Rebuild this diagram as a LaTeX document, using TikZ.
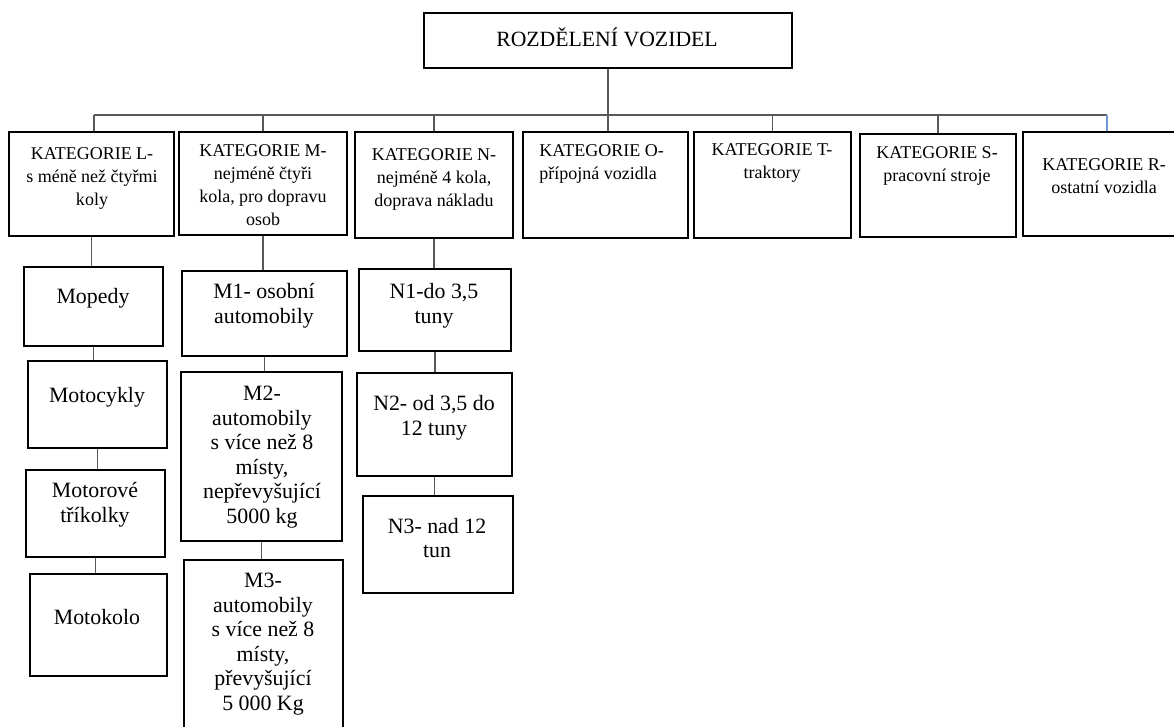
\documentclass[tikz,border=0pt]{standalone}
\usepackage{fontspec}
\setmainfont{Liberation Serif}
\usetikzlibrary{fit}
\tikzset{
  box/.style={draw=black, line width=1.4pt, inner sep=0pt},
  conn/.style={draw=black!65, line width=0.8pt},
  bluecon/.style={draw=cyan!50!blue!60, line width=0.8pt},
  cat/.style={font=\fontsize{13.5}{17.25}\selectfont, align=center, inner sep=0pt},
  sub/.style={font=\fontsize{16.4}{18.4}\selectfont, align=center, inner sep=0pt},
  ttl/.style={font=\fontsize{16.3}{19}\selectfont, inner sep=0pt},
}
\begin{document}
\begin{tikzpicture}[x=0.75pt,y=-0.75pt]
\clip (0,0) rectangle (1174,727);
\fill[white] (0,0) rectangle (1174,727);
% boxes
\node[box, fit={(424,13) (792,68)}] (top) {};
\node[box, fit={(9,132) (174,236)}] (L) {};
\node[box, fit={(179,132) (347,235)}] (M) {};
\node[box, fit={(355,132) (513,238)}] (N) {};
\node[box, fit={(523,132) (688,238)}] (O) {};
\node[box, fit={(694,132) (851,238)}] (T) {};
\node[box, fit={(860,134) (1016,237)}] (S) {};
\node[box, fit={(1023,132) (1190,236)}] (R) {};
\node[box, fit={(24,267) (163,346)}] (Mop) {};
\node[box, fit={(28,361) (167,448)}] (Moc) {};
\node[box, fit={(26,470) (165,557)}] (Mtr) {};
\node[box, fit={(30,574) (167,676)}] (Mok) {};
\node[box, fit={(182,271) (347,356)}] (M1) {};
\node[box, fit={(181,372) (342,541)}] (M2) {};
\node[box, fit={(184,560) (343,745)}] (M3) {};
\node[box, fit={(359,269) (511,351)}] (N1) {};
\node[box, fit={(357,373) (512,476)}] (N2) {};
\node[box, fit={(363,496) (513,593)}] (N3) {};
% texts
\node[ttl] (tTop) at (607,37) {ROZDĚLENÍ VOZIDEL};
\node[cat] (tL) at (92,178) {KATEGORIE L-\\s méně než čtyřmi\\koly};
\node[cat] (tM) at (263,185) {KATEGORIE M-\\nejméně čtyři\\kola, pro dopravu\\osob};
\node[cat] (tN) at (434,179) {KATEGORIE N-\\nejméně 4 kola,\\doprava nákladu};
\node[cat, align=left, anchor=west] (tO) at (539,164) {KATEGORIE O-\\přípojná vozidla};
\node[cat] (tT) at (772,163) {KATEGORIE T-\\traktory};
\node[cat] (tS) at (937,166) {KATEGORIE S-\\pracovní stroje};
\node[cat] (tR) at (1104,176) {KATEGORIE R-\\ostatní vozidla};
\node[sub] (tMop) at (93,298) {Mopedy};
\node[sub] (tMoc) at (97,397) {Motocykly};
\node[sub] (tMtr) at (95,505) {Motorové\\tříkolky};
\node[sub] (tMok) at (97,617) {Motokolo};
\node[sub] (tM1) at (264,306) {M1- osobní\\automobily};
\node[sub] (tM2) at (262,457) {M2-\\automobily\\s více než 8\\místy,\\nepřevyšující\\5000 kg};
\node[sub] (tM3) at (263,644) {M3-\\automobily\\s více než 8\\místy,\\převyšující\\5 000 Kg};
\node[sub] (tN1) at (434,306) {N1-do 3,5\\tuny};
\node[sub] (tN2) at (434,418) {N2- od 3,5 do\\12 tuny};
\node[sub] (tN3) at (437,538) {N3- nad 12\\tun};
% connectors
\coordinate (busL) at (94,115);
\coordinate (busR) at (1107,115);
\draw[conn] (busL) -- (busR);
\draw[conn] (top.south) -- (top.south |- O.north);
\draw[conn] (busL) -- (busL |- L.north);
\draw[conn] (M.north |- busL) -- (M.north);
\draw[conn] (N.north |- busL) -- (N.north);
\draw[conn] (T.north |- busL) -- (T.north);
\draw[conn] (S.north |- busL) -- (S.north);
\draw[bluecon] (busR) -- (busR |- R.north);
\draw[conn] (L.south |- L.south) -- (L.south |- Mop.north);
\draw[conn] (Mop.south) -- (Mop.south |- Moc.north);
\draw[conn] (Moc.south) -- (Moc.south |- Mtr.north);
\draw[conn] (Mtr.south) -- (Mtr.south |- Mok.north);
\draw[conn] (M.south) -- (M.south |- M1.north);
\draw[conn] (M1.south) -- (M1.south |- M2.north);
\draw[conn] (M2.south) -- (M2.south |- M3.north);
\draw[conn] (N.south) -- (N.south |- N1.north);
\draw[conn] (N1.south) -- (N1.south |- N2.north);
\draw[conn] (N2.south) -- (N2.south |- N3.north);
\end{tikzpicture}
\end{document}
